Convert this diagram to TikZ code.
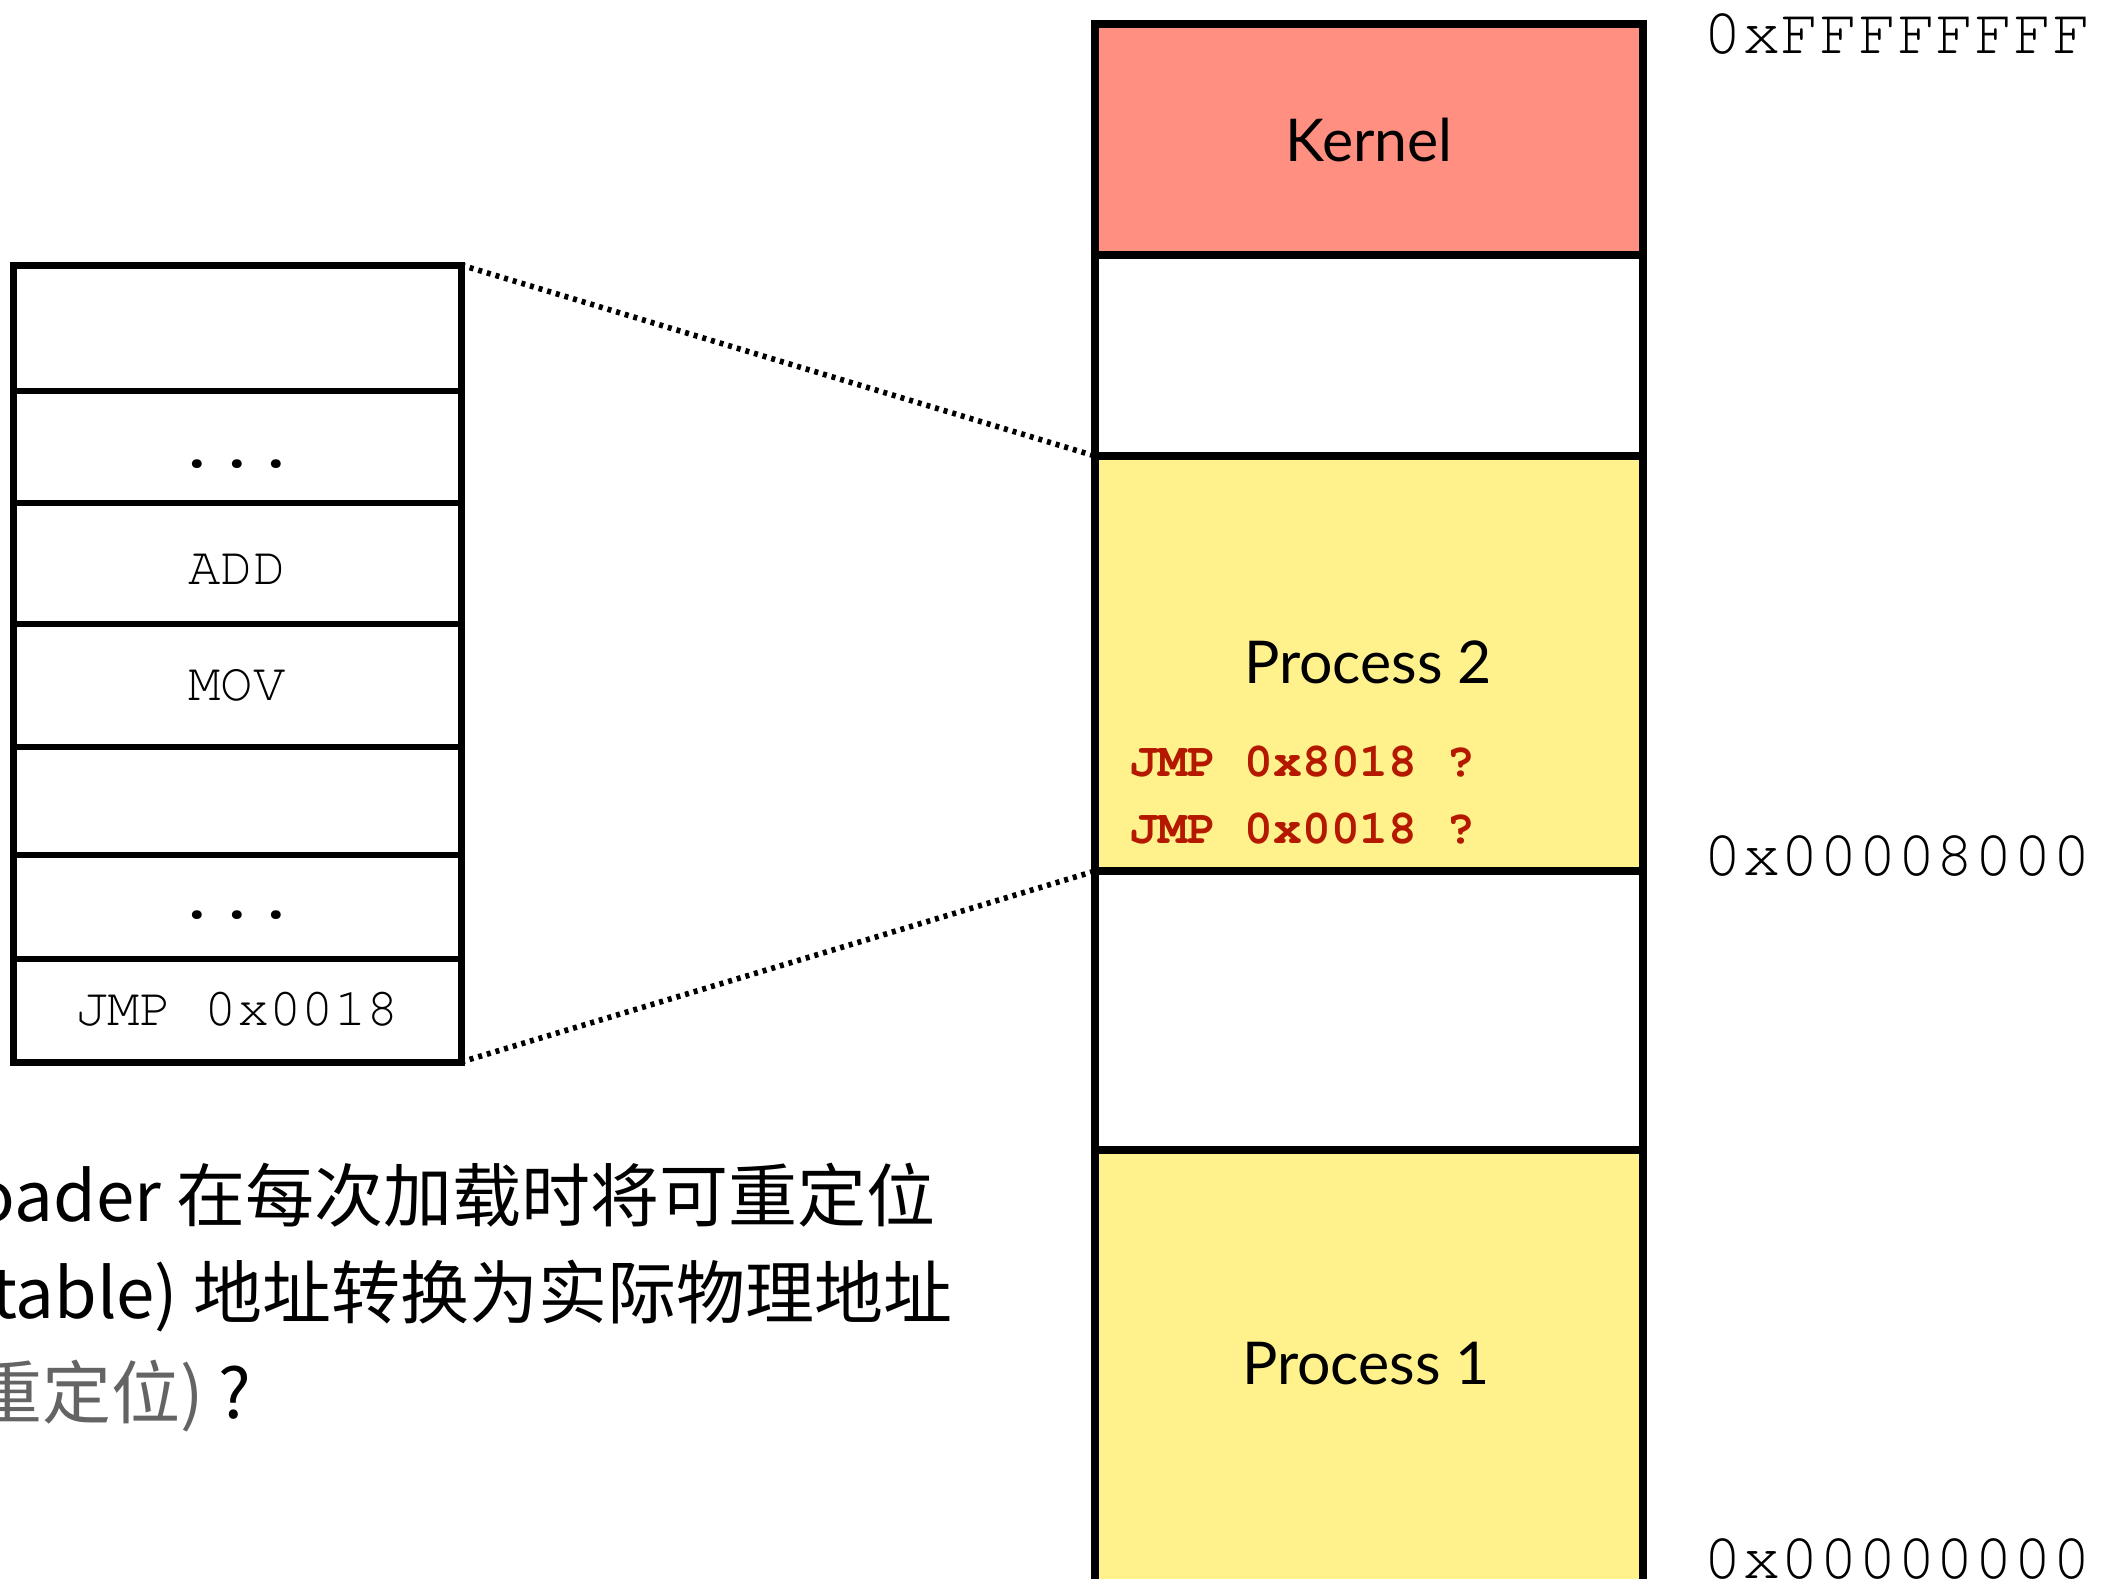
\documentclass[tikz,border=0pt]{standalone}
\usepackage{fontspec}
\setmainfont{Lato}
\newfontfamily\cour{TeX Gyre Cursor}
\newfontfamily\cjk{Noto Sans CJK SC}
\definecolor{kernelc}{RGB}{255,143,128}
\definecolor{procc}{RGB}{255,242,140}
\definecolor{redc}{RGB}{180,25,0}
\definecolor{grayc}{RGB}{100,100,100}
\tikzset{
  memline/.style={line width=4pt},
  boxouter/.style={line width=3.5pt},
  boxinner/.style={line width=2.75pt},
  dotline/.style={line width=2.8pt, dash pattern=on 2pt off 2.5pt},
  lbl/.style={inner sep=0pt, anchor=base, font=\fontsize{29.5}{35}\selectfont},
  monot/.style={inner sep=0pt, anchor=base, font=\cour\fontsize{27}{32}\selectfont},
  addr/.style={inner sep=0pt, anchor=base west, font=\cour\fontsize{32.3}{40}\selectfont},
  redt/.style={inner sep=0pt, anchor=base west, text=redc, font=\cour\bfseries\fontsize{24}{30}\selectfont},
  cjkt/.style={inner sep=0pt, anchor=base east, font=\cjk\fontsize{34.5}{42}\selectfont},
  dotst/.style={inner sep=0pt, anchor=base, font=\cour\bfseries\fontsize{33}{38}\selectfont}
}
\begin{document}
\begin{tikzpicture}[x=0.5pt,y=-0.5pt]
\useasboundingbox (0,0) rectangle (2102,1578);
\clip (0,0) rectangle (2102,1578);
\fill[white] (0,0) rectangle (2102,1578);
% memory column
\fill[kernelc] (1095,24) rectangle (1643,255);
\fill[procc] (1095,456) rectangle (1643,871);
\fill[procc] (1095,1150) rectangle (1643,1600);
\draw[memline] (1095,1600) -- (1095,24) -- (1643,24) -- (1643,1600);
\draw[memline] (1095,255) -- (1643,255);
\draw[memline] (1095,456) -- (1643,456);
\draw[memline] (1095,871) -- (1643,871);
\draw[memline] (1095,1150) -- (1643,1150);
\coordinate (p2NW) at (1095,456);
\coordinate (p2SW) at (1095,871);
\node[lbl] (kern) at (1369,162) {Kernel};
\node[lbl] (proc2) at (1368,683) {Process 2};
\node[lbl] (proc1) at (1366,1384) {Process 1};
\node[redt] (jmpa) at (1129,776) {JMP 0x8018 ?};
\node[redt] (jmpb) at (1129,843) {JMP 0x0018 ?};
% addresses
\node[addr] (aTop) at (1703,54) {0xFFFFFFFF};
\node[addr] (aMid) at (1703,875) {0x00008000};
\node[addr] (aBot) at (1703,1578) {0x00000000};
% program box
\draw[boxinner] (13,391) -- (461,391);
\draw[boxinner] (13,503) -- (461,503);
\draw[boxinner] (13,624) -- (461,624);
\draw[boxinner] (13,747) -- (461,747);
\draw[boxinner] (13,855) -- (461,855);
\draw[boxinner] (13,959) -- (461,959);
\draw[boxouter] (13,265) rectangle (461,1062);
\coordinate (lbNE) at (461,265);
\coordinate (lbSE) at (461,1062);
\node[dotst] (dots1) at (237,467) {...};
\node[monot] (add) at (237,584) {ADD};
\node[monot] (mov) at (237,700) {MOV};
\node[dotst] (dots2) at (237,918) {...};
\node[monot] (jmp) at (237,1025) {JMP 0x0018};
% dotted connectors
\draw[dotline] (lbNE) -- (p2NW);
\draw[dotline] (lbSE) -- (p2SW);
% bottom text
\node[cjkt] (t1) at (936,1221) {Loader 在每次加载时将可重定位};
\node[cjkt] (t2) at (953,1318) {(relocatable) 地址转换为实际物理地址};
\node[cjkt] (t3) at (252,1418) {\textcolor{grayc}{重定位)} ?};
\end{tikzpicture}
\end{document}
